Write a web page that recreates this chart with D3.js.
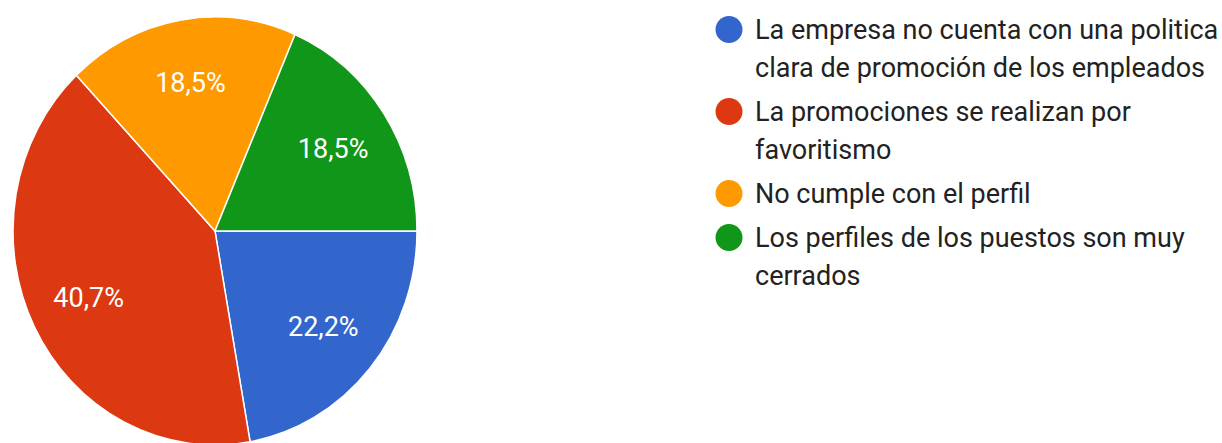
<!DOCTYPE html>
<html>
<head>
<meta charset="utf-8">
<script src="https://cdn.jsdelivr.net/npm/d3@7"></script>
<style>
  html, body { margin: 0; padding: 0; background: #ffffff; }
  svg { display: block; }
</style>
</head>
<body>
<svg id="chart" width="1222" height="443"></svg>
<script>
// Survey answers and their shares (%)
const categories = [
  "La empresa no cuenta con una politica clara de promoción de los empleados",
  "La promociones se realizan por favoritismo",
  "No cumple con el perfil",
  "Los perfiles de los puestos son muy cerrados"
];
const legendLines = [
  ["La empresa no cuenta con una politica", "clara de promoción de los empleados"],
  ["La promociones se realizan por", "favoritismo"],
  ["No cumple con el perfil"],
  ["Los perfiles de los puestos son muy", "cerrados"]
];
const percentages = [22.2, 40.7, 18.5, 18.5];
const percentLabels = ["22,2%", "40,7%", "18,5%", "18,5%"];
const colors = ["#3366cc", "#dc3912", "#ff9900", "#109618"];

const svg = d3.select("#chart");
const font = "Roboto, 'Liberation Sans', Arial, sans-serif";

// Pie geometry (slightly taller than wide)
const cx = 215, cy = 231, radius = 202, stretchY = 214 / 202;

const color = d3.scaleOrdinal().domain(categories).range(colors);

const pie = d3.pie()
  .sort(null)
  .value(d => d.value)
  .startAngle(Math.PI / 2)
  .endAngle(Math.PI / 2 + 2 * Math.PI);

const data = categories.map((c, i) => ({ name: c, value: percentages[i], label: percentLabels[i] }));
const arcs = pie(data);

const arc = d3.arc().innerRadius(0).outerRadius(radius);
const labelArc = d3.arc().innerRadius(radius * 0.7).outerRadius(radius * 0.7);

const pieG = svg.append("g")
  .attr("transform", `translate(${cx},${cy}) scale(1,${stretchY})`);

pieG.selectAll("path.slice")
  .data(arcs)
  .join("path")
  .attr("class", "slice")
  .attr("d", arc)
  .attr("fill", d => color(d.data.name))
  .attr("stroke", "#ffffff")
  .attr("stroke-width", 1.5)
  .attr("vector-effect", "non-scaling-stroke");

// Percentage labels inside slices
svg.append("g")
  .selectAll("text")
  .data(arcs)
  .join("text")
  .attr("x", d => cx + labelArc.centroid(d)[0])
  .attr("y", d => cy + labelArc.centroid(d)[1] * stretchY)
  .attr("text-anchor", "middle")
  .attr("dominant-baseline", "central")
  .attr("font-family", font)
  .attr("font-size", 27)
  .attr("fill", "#ffffff")
  .text(d => d.data.label);

// Legend
const legendX = 729, textX = 755, lineH = 38, itemGap = 6, firstBaseline = 39;
let y = firstBaseline;
const legendPos = legendLines.map(lines => {
  const pos = y;
  y += lines.length * lineH + itemGap;
  return pos;
});

const legend = svg.append("g");
const items = legend.selectAll("g.item")
  .data(categories)
  .join("g")
  .attr("class", "item")
  .attr("transform", (d, i) => `translate(0,${legendPos[i]})`);

items.append("circle")
  .attr("cx", legendX)
  .attr("cy", -9.5)
  .attr("r", 13.5)
  .attr("fill", d => color(d));

items.append("text")
  .attr("x", textX)
  .attr("y", 0)
  .attr("font-family", font)
  .attr("font-size", 27)
  .attr("fill", "#222222")
  .selectAll("tspan")
  .data((d, i) => legendLines[i])
  .join("tspan")
  .attr("x", textX)
  .attr("dy", (d, j) => j === 0 ? 0 : lineH)
  .text(d => d);
</script>
</body>
</html>
